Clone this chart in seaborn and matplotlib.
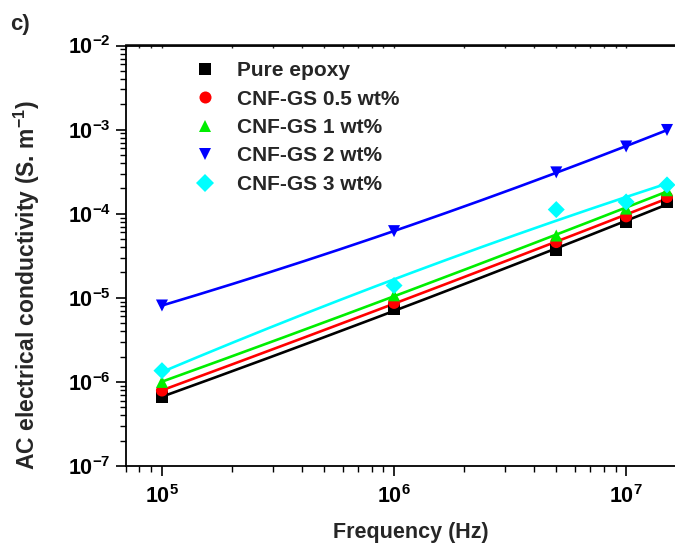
import numpy as np
import pandas as pd
import matplotlib
matplotlib.use("Agg")
import matplotlib.pyplot as plt
import seaborn as sns
from matplotlib.ticker import LogLocator, LogFormatterMathtext, NullFormatter

# ---- data ----
freq = [1e5, 1e6, 5e6, 1e7, 1.5e7]
pure_epoxy = [6.6e-7, 7.3e-6, 3.7e-5, 7.9e-5, 1.36e-4]
cnf_05 = [7.9e-7, 8.7e-6, 4.6e-5, 9.3e-5, 1.58e-4]
cnf_1 = [1.0e-6, 1.07e-5, 5.5e-5, 1.15e-4, 1.9e-4]
cnf_2 = [8.1e-6, 6.2e-5, 3.1e-4, 6.3e-4, 9.9e-4]
cnf_3 = [1.36e-6, 1.4e-5, 1.12e-4, 1.38e-4, 2.2e-4]
series_names = ["Pure epoxy", "CNF-GS 0.5 wt%", "CNF-GS 1 wt%", "CNF-GS 2 wt%", "CNF-GS 3 wt%"]
series_values = [pure_epoxy, cnf_05, cnf_1, cnf_2, cnf_3]

colors = ["#000000", "#FF0000", "#00EE00", "#0000FF", "#00FFFF"]
markers = ["s", "o", "^", "v", "D"]

sns.set_theme(style="ticks")
plt.rcParams["font.family"] = ["Liberation Sans", "DejaVu Sans"]
plt.rcParams["font.weight"] = "bold"
plt.rcParams["mathtext.fontset"] = "custom"
plt.rcParams["mathtext.rm"] = "Liberation Sans:bold"
plt.rcParams["mathtext.it"] = "Liberation Sans:bold"
plt.rcParams["mathtext.bf"] = "Liberation Sans:bold"

rows = []
for name, vals in zip(series_names, series_values):
    for f, v in zip(freq, vals):
        rows.append({"Frequency": f, "Conductivity": v, "Sample": name})
df = pd.DataFrame(rows)

# fitted curves (quadratic fit in log-log space)
fit_rows = []
for name, vals in zip(series_names, series_values):
    lx = np.log10(freq)
    ly = np.log10(vals)
    coef = np.polyfit(lx, ly, 2)
    xs = np.linspace(lx.min(), lx.max(), 200)
    ys = np.polyval(coef, xs)
    for a, b in zip(xs, ys):
        fit_rows.append({"Frequency": 10 ** a, "Conductivity": 10 ** b, "Sample": name})
fit_df = pd.DataFrame(fit_rows)

W, H = 675, 543
fig = plt.figure(figsize=(W / 100, H / 100), dpi=100)
left_px, right_px, top_px, bottom_px = 126, 696, 45.5, 466
ax = fig.add_axes([left_px / W, 1 - bottom_px / H, (right_px - left_px) / W, (bottom_px - top_px) / H])

palette = dict(zip(series_names, colors))
marker_map = dict(zip(series_names, markers))

sns.lineplot(data=fit_df, x="Frequency", y="Conductivity", hue="Sample", hue_order=series_names,
             palette=palette, linewidth=1.9, legend=False, ax=ax, sort=True)
sns.scatterplot(data=df, x="Frequency", y="Conductivity", hue="Sample", style="Sample",
                hue_order=series_names, style_order=series_names, palette=palette,
                markers=marker_map, s=75, linewidth=0, ax=ax, zorder=3)

ax.set_xscale("log")
ax.set_yscale("log")
ax.set_xlim(7.0e4, 2.0e7)
ax.set_ylim(1e-7, 1e-2)

ax.xaxis.set_major_locator(LogLocator(base=10, numticks=20))
ax.xaxis.set_minor_locator(LogLocator(base=10, subs=np.arange(2, 10), numticks=50))
ax.yaxis.set_major_locator(LogLocator(base=10, numticks=20))
ax.yaxis.set_minor_locator(LogLocator(base=10, subs=np.arange(2, 10), numticks=50))
ax.xaxis.set_major_formatter(LogFormatterMathtext())
ax.yaxis.set_major_formatter(LogFormatterMathtext())
ax.xaxis.set_minor_formatter(NullFormatter())
ax.yaxis.set_minor_formatter(NullFormatter())

for sp in ax.spines.values():
    sp.set_linewidth(1.3)
    sp.set_color("black")
ax.tick_params(which="major", direction="out", length=7, width=1.2, labelsize=15.5, pad=4, colors="black")
ax.tick_params(which="minor", direction="out", length=4, width=1.0, colors="black")
ax.tick_params(axis="x", which="major", pad=7)

sec = ax.secondary_xaxis("top")
sec.xaxis.set_major_locator(LogLocator(base=10, numticks=20))
sec.xaxis.set_minor_locator(LogLocator(base=10, subs=np.arange(2, 10), numticks=50))
sec.xaxis.set_major_formatter(NullFormatter())
sec.xaxis.set_minor_formatter(NullFormatter())
sec.tick_params(which="both", direction="in", length=2.5, width=1.0)
sec.spines["top"].set_linewidth(1.3)

ax.set_xlabel("Frequency (Hz)", fontsize=15.5, fontweight="bold", labelpad=10)
ax.set_ylabel("AC electrical conductivity (S. m$^{-1}$)", fontsize=16.5, fontweight="bold")
ax.yaxis.set_label_coords(-0.147, 0.43)

handles, labels = ax.get_legend_handles_labels()
leg = ax.legend(handles, labels, loc="upper left", bbox_to_anchor=(176 / W, 1 - 53 / H),
                bbox_transform=fig.transFigure, frameon=False, fontsize=15,
                handletextpad=0.55, labelspacing=0.45, borderaxespad=0, markerscale=1.0)
for t in leg.get_texts():
    t.set_fontweight("bold")

fig.text(10 / W, 1 - 30 / H, "c)", fontsize=16, fontweight="bold")

fig.savefig("out.png", dpi=100)
